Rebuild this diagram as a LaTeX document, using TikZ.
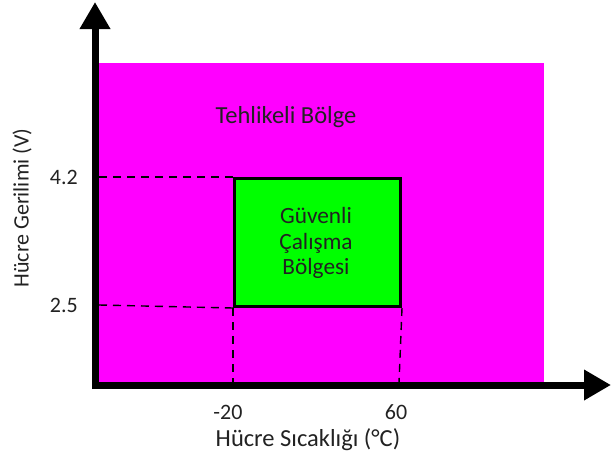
\documentclass[tikz,border=0pt]{standalone}
\usepackage{fontspec}
\setmainfont{Carlito}
\usetikzlibrary{arrows.meta}
\definecolor{zonemag}{HTML}{FF00FF}
\definecolor{zonegreen}{HTML}{00FF00}
\definecolor{txt}{HTML}{222222}
\tikzset{
  lbl/.style={font=\fontsize{22}{25.5}\selectfont, text=txt, inner sep=0pt},
  biglbl/.style={font=\fontsize{24.5}{25.5}\selectfont, text=txt, inner sep=0pt},
  midlbl/.style={font=\fontsize{23.3}{25.5}\selectfont, text=txt, inner sep=0pt},
  guide/.style={draw=black, line width=1.4pt, dash pattern=on 8pt off 6pt},
  axis/.style={draw=black, line width=7pt, -{Triangle[length=27pt,width=29pt]}},
}
\begin{document}
\begin{tikzpicture}[x=1pt,y=-1pt]
\useasboundingbox (0,0) rectangle (611,466);
% danger zone
\fill[zonemag] (99,63) rectangle (544,383);
% corner coordinates
\coordinate (l42) at (99,177);
\coordinate (l25) at (99,305);
\coordinate (bm20) at (233,383);
\coordinate (b60) at (399,383);
% safe zone
\node[draw=black, line width=3pt, fill=zonegreen, minimum width=166pt, minimum height=128pt, inner sep=0pt, anchor=north west] (safe) at (233,177) {};
% dashed guides
\draw[guide] (l42) -- (safe.north west);
\draw[guide] (l25) -- (safe.south west);
\draw[guide] (safe.south west) -- (bm20);
\draw[guide] (safe.south east) -- (b60);
% axes
\coordinate (o) at (95,389);
\coordinate (ytop) at (95,2);
\coordinate (xo) at (92,385);
\coordinate (xend) at (611,385);
\draw[axis] (o) -- (ytop);
\draw[axis] (xo) -- (xend);
% labels
\node[biglbl, anchor=base] (danger) at (286,123) {Tehlikeli Bölge};
\node[midlbl, align=center] (safetxt) at (316,243) {Güvenli\\Çalışma\\Bölgesi};
\node[lbl, anchor=base east] (t42) at (78,184) {4.2};
\node[lbl, anchor=base east] (t25) at (78,312) {2.5};
\node[lbl, anchor=base] (tm20) at (228,419) {-20};
\node[lbl, anchor=base] (t60) at (396,419) {60};
\node[biglbl, anchor=base] (xlab) at (308,446) {Hücre Sıcaklığı (°C)};
\node[lbl, rotate=90] (ylab) at (22,208) {Hücre Gerilimi (V)};
\end{tikzpicture}
\end{document}
